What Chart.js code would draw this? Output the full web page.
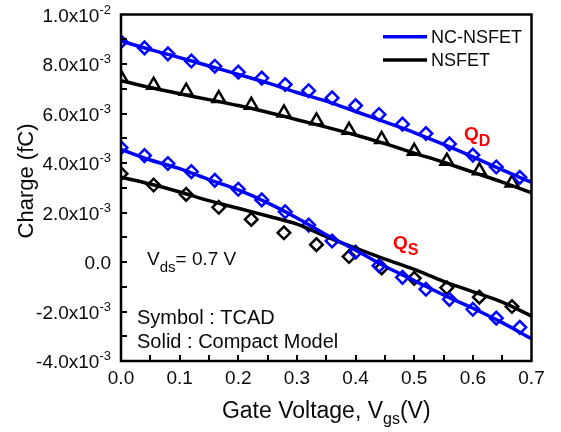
<!DOCTYPE html>
<html>
<head>
<meta charset="utf-8">
<script src="https://cdn.jsdelivr.net/npm/chart.js@4.4.0/dist/chart.umd.min.js"></script>
<style>
  body { margin: 0; background: #fff; }
  #wrap { width: 561px; height: 432px; }
</style>
</head>
<body>
<div id="wrap"><canvas id="chargeChart" width="561" height="432"></canvas></div>
<script>
// TCAD symbols (charge in fC)
const vgsTcadNC = [0, 0.04, 0.08, 0.12, 0.16, 0.20, 0.24, 0.28, 0.32, 0.36, 0.40, 0.44, 0.48, 0.52, 0.56, 0.60, 0.64, 0.68];
const qdTcadNC = [8.90e-3, 8.65e-3, 8.41e-3, 8.12e-3, 7.91e-3, 7.67e-3, 7.43e-3, 7.17e-3, 6.92e-3, 6.63e-3, 6.32e-3, 5.96e-3, 5.57e-3, 5.19e-3, 4.77e-3, 4.32e-3, 3.84e-3, 3.42e-3];
const qsTcadNC = [4.62e-3, 4.30e-3, 3.98e-3, 3.65e-3, 3.30e-3, 2.94e-3, 2.51e-3, 2.03e-3, 1.49e-3, 0.85e-3, 0.40e-3, -0.15e-3, -0.62e-3, -1.10e-3, -1.51e-3, -1.91e-3, -2.27e-3, -2.64e-3];

const vgsTcadNS = [0, 0.0556, 0.1111, 0.1667, 0.2222, 0.2778, 0.3333, 0.3889, 0.4444, 0.5, 0.5556, 0.6111, 0.6667];
const qdTcadNS = [7.45e-3, 7.15e-3, 6.91e-3, 6.61e-3, 6.34e-3, 6.03e-3, 5.71e-3, 5.33e-3, 4.96e-3, 4.48e-3, 4.08e-3, 3.69e-3, 3.20e-3];
const qsTcadNS = [3.57e-3, 3.11e-3, 2.73e-3, 2.21e-3, 1.72e-3, 1.18e-3, 0.70e-3, 0.22e-3, -0.24e-3, -0.66e-3, -1.04e-3, -1.42e-3, -1.80e-3];

// compact model curves
const vgsModel = [0, 0.05, 0.10, 0.15, 0.20, 0.25, 0.30, 0.35, 0.40, 0.45, 0.50, 0.55, 0.60, 0.65, 0.70];
const qdModelNC = [8.93e-3, 8.58e-3, 8.26e-3, 7.92e-3, 7.58e-3, 7.24e-3, 6.85e-3, 6.50e-3, 6.08e-3, 5.66e-3, 5.23e-3, 4.75e-3, 4.25e-3, 3.72e-3, 3.22e-3];
const qdModelNS = [7.33e-3, 7.05e-3, 6.80e-3, 6.56e-3, 6.32e-3, 6.05e-3, 5.75e-3, 5.45e-3, 5.13e-3, 4.78e-3, 4.40e-3, 4.03e-3, 3.63e-3, 3.23e-3, 2.80e-3];
const qsModelNC = [4.55e-3, 4.12e-3, 3.77e-3, 3.33e-3, 2.91e-3, 2.39e-3, 1.78e-3, 1.10e-3, 0.48e-3, -0.17e-3, -0.75e-3, -1.33e-3, -1.87e-3, -2.45e-3, -3.10e-3];
const qsModelNS = [3.43e-3, 3.15e-3, 2.83e-3, 2.48e-3, 2.17e-3, 1.86e-3, 1.53e-3, 1.03e-3, 0.56e-3, 0.12e-3, -0.30e-3, -0.78e-3, -1.20e-3, -1.62e-3, -2.18e-3];

// axis ticks
const xTicks = [0, 0.1, 0.2, 0.3, 0.4, 0.5, 0.6, 0.7];
const xTickLabels = ['0.0', '0.1', '0.2', '0.3', '0.4', '0.5', '0.6', '0.7'];
const yTicks = [-0.004, -0.002, 0, 0.002, 0.004, 0.006, 0.008, 0.01];
const yTickMantissa = ['-4.0', '-2.0', '0.0', '2.0', '4.0', '6.0', '8.0', '1.0'];
const yTickExp = ['-3', '-3', '', '-3', '-3', '-3', '-3', '-2'];

const BLUE = '#0000ff';
const BLACK = '#000000';
const FONT = "'Liberation Sans', Arial, sans-serif";

const pts = (xs, ys) => xs.map((x, i) => ({ x: x, y: ys[i] }));

function modelLine(data, color) {
    return {
        data: data, borderColor: color, borderWidth: 3.5, pointRadius: 0,
        showLine: true, tension: 0.35, fill: false, order: 1, clip: 0
    };
}
function tcadMarks(data, color, style, r) {
    return {
        data: data, showLine: false, pointStyle: style, pointRadius: r,
        pointBorderColor: color, pointBackgroundColor: 'rgba(0,0,0,0)',
        pointBorderWidth: 2.5, order: 2, clip: 0
    };
}

// draw runs of text with different sizes / offsets
function drawRich(ctx, parts, x, y, align) {
    let total = 0;
    parts.forEach(p => { ctx.font = p.font; p.w = ctx.measureText(p.t).width; total += p.w; });
    let cx = align === 'right' ? x - total : align === 'center' ? x - total / 2 : x;
    ctx.textAlign = 'left';
    ctx.textBaseline = 'alphabetic';
    parts.forEach(p => {
        ctx.font = p.font;
        ctx.fillStyle = p.color || '#0a0a0a';
        ctx.fillText(p.t, cx, y + (p.dy || 0));
        cx += p.w;
    });
}

const decorations = {
    id: 'decorations',
    afterDatasetsDraw(chart) {
        const ctx = chart.ctx;
        const a = chart.chartArea;
        const xs = chart.scales.x, ys = chart.scales.y;
        ctx.save();

        // frame
        ctx.strokeStyle = BLACK;
        ctx.lineWidth = 2.5;
        ctx.strokeRect(a.left, a.top, a.right - a.left, a.bottom - a.top);

        // inward ticks
        ctx.lineWidth = 2;
        ctx.beginPath();
        for (let v = 0.05; v < 0.7; v += 0.05) {
            const px = Math.round(xs.getPixelForValue(v));
            ctx.moveTo(px, a.bottom); ctx.lineTo(px, a.bottom - 6);
        }
        for (let v = -0.003; v < 0.0095; v += 0.001) {
            const py = Math.round(ys.getPixelForValue(v));
            ctx.moveTo(a.left, py); ctx.lineTo(a.left + 6, py);
        }
        ctx.stroke();

        // tick labels
        xTicks.forEach((v, i) => {
            drawRich(ctx, [{ t: xTickLabels[i], font: '19px ' + FONT }], xs.getPixelForValue(v), 384, 'center');
        });
        yTicks.forEach((v, i) => {
            const py = ys.getPixelForValue(v);
            const parts = yTickExp[i]
                ? [{ t: yTickMantissa[i] + 'x10', font: '19px ' + FONT }, { t: yTickExp[i], font: '13px ' + FONT, dy: -8 }]
                : [{ t: yTickMantissa[i], font: '19px ' + FONT }];
            drawRich(ctx, parts, 111, py + 7, 'right');
        });

        // axis titles
        drawRich(ctx, [
            { t: 'Gate Voltage, V', font: '23px ' + FONT },
            { t: 'gs', font: '16px ' + FONT, dy: 6 },
            { t: '(V)', font: '23px ' + FONT }
        ], (a.left + a.right) / 2, 418, 'center');
        ctx.save();
        ctx.translate(27, 181);
        ctx.rotate(-Math.PI / 2);
        ctx.font = '22px ' + FONT;
        ctx.fillStyle = '#0a0a0a';
        ctx.textAlign = 'center';
        ctx.textBaseline = 'middle';
        ctx.fillText('Charge (fC)', 0, 0);
        ctx.restore();

        // legend
        [['NC-NSFET', BLUE, 36.7], ['NSFET', BLACK, 60]].forEach(([label, color, ly]) => {
            ctx.strokeStyle = color;
            ctx.lineWidth = 3.5;
            ctx.beginPath(); ctx.moveTo(383, ly); ctx.lineTo(427, ly); ctx.stroke();
            drawRich(ctx, [{ t: label, font: '18px ' + FONT }], 431, ly + 6.3, 'left');
        });

        // annotations
        drawRich(ctx, [
            { t: 'Q', font: 'bold 19px ' + FONT, color: '#ff0000' },
            { t: 'D', font: 'bold 16px ' + FONT, color: '#ff0000', dy: 5.5 }
        ], 464, 140, 'left');
        drawRich(ctx, [
            { t: 'Q', font: 'bold 19px ' + FONT, color: '#ff0000' },
            { t: 'S', font: 'bold 16px ' + FONT, color: '#ff0000', dy: 6 }
        ], 393, 249, 'left');
        drawRich(ctx, [
            { t: 'V', font: '19px ' + FONT },
            { t: 'ds', font: '15px ' + FONT, dy: 6.5 },
            { t: '= 0.7 V', font: '19px ' + FONT }
        ], 147, 265, 'left');
        drawRich(ctx, [{ t: 'Symbol : TCAD', font: '20px ' + FONT }], 137, 324, 'left');
        drawRich(ctx, [{ t: 'Solid : Compact Model', font: '20px ' + FONT }], 137, 348, 'left');

        ctx.restore();
    }
};

new Chart(document.getElementById('chargeChart'), {
    type: 'scatter',
    data: {
        datasets: [
            modelLine(pts(vgsModel, qdModelNC), BLUE),
            modelLine(pts(vgsModel, qdModelNS), BLACK),
            modelLine(pts(vgsModel, qsModelNC), BLUE),
            modelLine(pts(vgsModel, qsModelNS), BLACK),
            tcadMarks(pts(vgsTcadNC, qdTcadNC), BLUE, 'rectRot', 6.3),
            tcadMarks(pts(vgsTcadNS, qdTcadNS), BLACK, 'triangle', 7.3),
            tcadMarks(pts(vgsTcadNC, qsTcadNC), BLUE, 'rectRot', 6.3),
            tcadMarks(pts(vgsTcadNS, qsTcadNS), BLACK, 'rectRot', 6.3)
        ]
    },
    options: {
        responsive: false,
        animation: false,
        layout: { padding: { left: 121, top: 14.5, right: 29.5, bottom: 71 } },
        scales: {
            x: { type: 'linear', min: 0, max: 0.7, display: false },
            y: { type: 'linear', min: -0.004, max: 0.01, display: false }
        },
        plugins: { legend: { display: false }, tooltip: { enabled: false } }
    },
    plugins: [decorations]
});
</script>
</body>
</html>
